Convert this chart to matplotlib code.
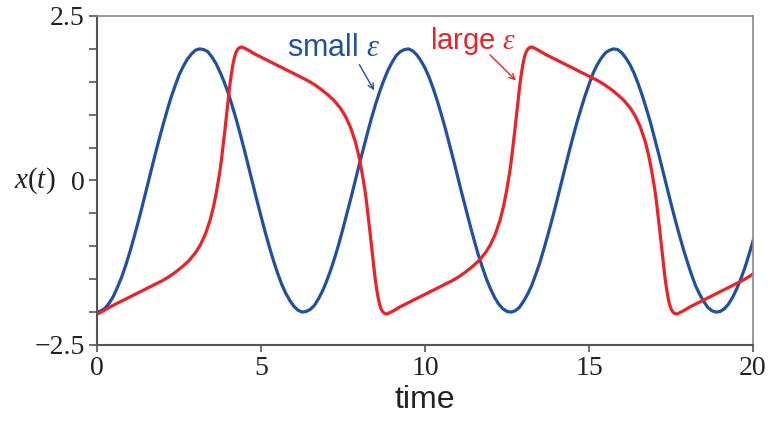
import numpy as np
import matplotlib
matplotlib.use('Agg')
import matplotlib.pyplot as plt

plt.rcParams['mathtext.fontset'] = 'custom'
plt.rcParams['mathtext.it'] = 'Liberation Serif:italic'
plt.rcParams['mathtext.rm'] = 'Liberation Serif'

# small epsilon (step 0.125)
t_small = np.arange(161) * 0.125
x_small = [-2.00, -1.98, -1.94, -1.86, -1.76, -1.62, -1.47, -1.29, -1.09, -0.87,
           -0.64, -0.40, -0.15, 0.10, 0.35, 0.59, 0.82, 1.04, 1.25, 1.43,
           1.60, 1.73, 1.84, 1.92, 1.98, 2.00, 1.99, 1.96, 1.88, 1.78,
           1.65, 1.50, 1.33, 1.13, 0.92, 0.69, 0.45, 0.20, -0.05, -0.30,
           -0.54, -0.78, -1.00, -1.21, -1.40, -1.57, -1.71, -1.82, -1.91, -1.97,
           -2.00, -1.99, -1.96, -1.90, -1.80, -1.68, -1.53, -1.36, -1.17, -0.96,
           -0.73, -0.49, -0.25, 0.00, 0.25, 0.49, 0.73, 0.96, 1.17, 1.36,
           1.53, 1.68, 1.80, 1.90, 1.96, 1.99, 2.00, 1.97, 1.91, 1.82,
           1.71, 1.57, 1.40, 1.21, 1.00, 0.78, 0.54, 0.30, 0.05, -0.20,
           -0.44, -0.68, -0.91, -1.13, -1.32, -1.50, -1.65, -1.78, -1.88, -1.95,
           -1.99, -2.00, -1.98, -1.93, -1.84, -1.73, -1.60, -1.43, -1.25, -1.04,
           -0.82, -0.59, -0.35, -0.10, 0.15, 0.40, 0.64, 0.87, 1.08, 1.28,
           1.46, 1.63, 1.76, 1.86, 1.94, 1.98, 2.00, 1.99, 1.94, 1.86,
           1.76, 1.63, 1.47, 1.29, 1.09, 0.88, 0.64, 0.40, 0.15, -0.10,
           -0.35, -0.59, -0.82, -1.04, -1.24, -1.43, -1.60, -1.73, -1.84, -1.93,
           -1.98, -2.00, -1.99, -1.95, -1.88, -1.78, -1.65, -1.50, -1.33, -1.13,
           -0.92]

# large epsilon (denser at the jumps)
t_large = [0.00, 0.20, 0.40, 0.60, 0.80, 1.00, 1.20, 1.40, 1.60, 1.80,
           2.00, 2.20, 2.40, 2.60, 2.80, 3.00, 3.15, 3.30, 3.45, 3.50,
           3.55, 3.60, 3.65, 3.70, 3.75, 3.80, 3.85, 3.90, 3.95, 4.00,
           4.05, 4.10, 4.15, 4.20, 4.25, 4.30, 4.35,
           4.42, 4.62, 4.82, 5.02, 5.22, 5.42, 5.62, 5.82, 6.02, 6.22,
           6.42, 6.62, 6.82, 7.02, 7.22, 7.42, 7.57, 7.72, 7.87, 7.92,
           7.97, 8.02, 8.07, 8.12, 8.17, 8.22, 8.27, 8.32, 8.37, 8.42,
           8.47, 8.52, 8.57, 8.62, 8.67, 8.72, 8.77,
           8.84, 9.04, 9.24, 9.44, 9.64, 9.84, 10.04, 10.24, 10.44, 10.64,
           10.84, 11.04, 11.24, 11.44, 11.64, 11.84, 11.99, 12.14, 12.29, 12.34,
           12.39, 12.44, 12.49, 12.54, 12.59, 12.64, 12.69, 12.74, 12.79, 12.84,
           12.89, 12.94, 12.99, 13.04, 13.09, 13.14, 13.19,
           13.26, 13.46, 13.66, 13.86, 14.06, 14.26, 14.46, 14.66, 14.86, 15.06,
           15.26, 15.46, 15.66, 15.86, 16.06, 16.26, 16.41, 16.56, 16.71, 16.76,
           16.81, 16.86, 16.91, 16.96, 17.01, 17.06, 17.11, 17.16, 17.21, 17.26,
           17.31, 17.36, 17.41, 17.46, 17.51, 17.56, 17.61,
           17.68, 17.88, 18.08, 18.28, 18.48, 18.68, 18.88, 19.08, 19.28, 19.48,
           19.68, 19.88, 20.00]
x_large = [-2.03, -1.98, -1.92, -1.87, -1.82, -1.77, -1.72, -1.67, -1.62, -1.57,
           -1.52, -1.46, -1.39, -1.31, -1.22, -1.10, -0.98, -0.82, -0.60, -0.50,
           -0.40, -0.28, -0.15, 0.00, 0.15, 0.34, 0.55, 0.77, 1.00, 1.23,
           1.45, 1.63, 1.78, 1.89, 1.96, 2.00, 2.02,
           2.03, 1.98, 1.92, 1.87, 1.82, 1.77, 1.72, 1.67, 1.62, 1.57,
           1.52, 1.46, 1.39, 1.31, 1.22, 1.10, 0.98, 0.82, 0.60, 0.50,
           0.40, 0.28, 0.15, 0.00, -0.15, -0.34, -0.55, -0.77, -1.00, -1.23,
           -1.45, -1.63, -1.78, -1.89, -1.96, -2.00, -2.02,
           -2.03, -1.98, -1.92, -1.87, -1.82, -1.77, -1.72, -1.67, -1.62, -1.57,
           -1.52, -1.46, -1.39, -1.31, -1.22, -1.10, -0.98, -0.82, -0.60, -0.50,
           -0.40, -0.28, -0.15, 0.00, 0.15, 0.34, 0.55, 0.77, 1.00, 1.23,
           1.45, 1.63, 1.78, 1.89, 1.96, 2.00, 2.02,
           2.03, 1.98, 1.92, 1.87, 1.82, 1.77, 1.72, 1.67, 1.62, 1.57,
           1.52, 1.46, 1.39, 1.31, 1.22, 1.10, 0.98, 0.82, 0.60, 0.50,
           0.40, 0.28, 0.15, 0.00, -0.15, -0.34, -0.55, -0.77, -1.00, -1.23,
           -1.45, -1.63, -1.78, -1.89, -1.96, -2.00, -2.02,
           -2.03, -1.98, -1.92, -1.87, -1.82, -1.77, -1.72, -1.67, -1.62, -1.57,
           -1.52, -1.46, -1.42]

xticks = [0, 5, 10, 15, 20]
xticklabels = ['0', '5', '10', '15', '20']
yticks = [-2.5, -2.0, -1.5, -1.0, -0.5, 0.0, 0.5, 1.0, 1.5, 2.0, 2.5]
yticklabels = ['\u22122.5', '', '', '', '', '0', '', '', '', '', '2.5']

blue = '#1f50a2'
red = '#ec2227'

fig = plt.figure(figsize=(7.71, 4.21), dpi=100)
ax = fig.add_axes([97 / 771, 1 - 345 / 421, 656 / 771, 329 / 421])

ax.plot(t_small, x_small, color=blue, lw=2.3, solid_joinstyle='round')
ax.plot(t_large, x_large, color=red, lw=2.3, solid_joinstyle='round')

ax.set_xlim(0, 20)
ax.set_ylim(-2.5, 2.5)
ax.set_xticks(xticks)
ax.set_xticklabels(xticklabels, family='Liberation Serif', fontsize=20, color='#222222')
ax.set_yticks(yticks)
ax.set_yticklabels(yticklabels, family='Liberation Serif', fontsize=20, color='#222222')
ax.tick_params(axis='x', direction='out', length=5, width=1.2, color='#555555', pad=3)
ax.tick_params(axis='y', direction='out', length=6, width=1.2, color='#555555', pad=3)

for s in ['left', 'bottom']:
    ax.spines[s].set_color('#555555')
    ax.spines[s].set_linewidth(1.5)
for s in ['top', 'right']:
    ax.spines[s].set_color('#888888')
    ax.spines[s].set_linewidth(1.2)

ax.set_xlabel('time', family='Liberation Sans', fontsize=23, color='#222222', labelpad=3)
fig.text(14 / 771, 1 - 181 / 421, '$x(t)$', fontsize=21, color='#222222', va='center', ha='left')

# labels with arrows
ax.text(5.79, 1.89, 'small $\\varepsilon$', family='Liberation Sans', fontsize=22,
        color=blue, va='baseline', ha='left')
ax.annotate('', xy=(8.45, 1.37), xytext=(8.00, 1.76),
            arrowprops=dict(arrowstyle='->', color=blue, lw=1.0, shrinkA=0, shrinkB=0))
ax.text(10.15, 2.00, 'large $\\varepsilon$', family='Liberation Sans', fontsize=21,
        color=red, va='baseline', ha='left')
ax.annotate('', xy=(12.77, 1.52), xytext=(11.98, 1.91),
            arrowprops=dict(arrowstyle='->', color=red, lw=1.0, shrinkA=0, shrinkB=0))

fig.savefig('out.png', dpi=100)
